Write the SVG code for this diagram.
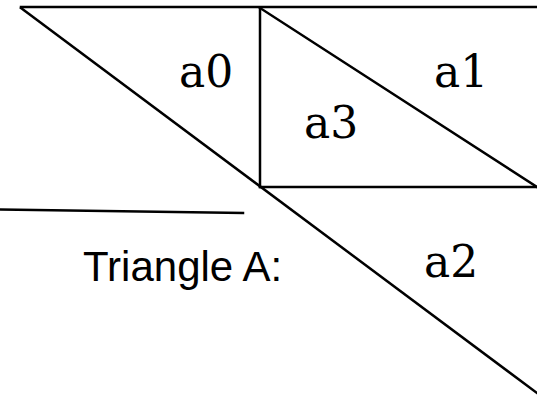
<svg xmlns="http://www.w3.org/2000/svg" width="537" height="402" viewBox="0 0 537 402">
<style>
.ln{stroke:#000;stroke-width:2.5;fill:none;stroke-linecap:square}
.lbl{font-family:"DejaVu Serif","Liberation Serif",serif;font-size:44px;fill:#000}
.cap{font-family:"Liberation Sans",Arial,sans-serif;font-size:42px;fill:#000}
</style>
<rect width="537" height="402" fill="#fff"/>
<g id="connectors">
<line class="ln" x1="21" y1="7" x2="537" y2="7"/>
<line class="ln" x1="21" y1="8" x2="545" y2="399"/>
<line class="ln" x1="260" y1="8" x2="260" y2="187"/>
<line class="ln" x1="260" y1="187" x2="537" y2="187"/>
<line class="ln" x1="260" y1="8" x2="537" y2="187"/>
<line class="ln" x1="0" y1="209.5" x2="243" y2="213"/>
</g>
<g id="a0"><text class="lbl" x="179" y="87">a0</text></g>
<g id="a1"><text class="lbl" x="434" y="87">a1</text></g>
<g id="a3"><text class="lbl" x="304" y="138">a3</text></g>
<g id="a2"><text class="lbl" x="424" y="277">a2</text></g>
<g id="title"><text class="cap" x="83" y="281">Triangle A:</text></g>
</svg>
